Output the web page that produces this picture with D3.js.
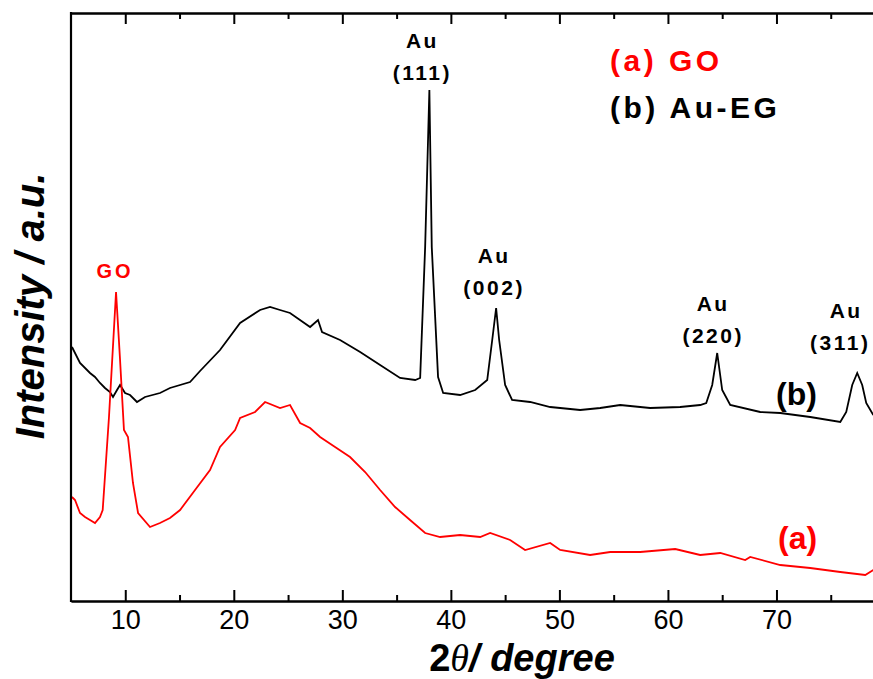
<!DOCTYPE html>
<html>
<head>
<meta charset="utf-8">
<script src="https://cdn.jsdelivr.net/npm/d3@7"></script>
<style>
  body { margin: 0; background: #fff; }
  svg { display: block; font-family: "Liberation Sans", Arial, sans-serif; }
</style>
</head>
<body>
<svg id="chart" width="873" height="679"></svg>
<script>
// (a) GO pattern
var goTheta = [5.09, 5.37, 5.83, 6.29, 6.75, 7.21, 7.67, 7.92, 8.5, 9.15, 9.52, 9.88, 10.25, 10.71, 11.18,
    12.28, 13.2, 14.12, 15.05, 16.43, 17.81, 18.73, 20.12, 20.58, 21.96, 22.88, 24.26, 25.18, 26.11,
    27.03, 27.95, 29.33, 30.71, 32.1, 33.48, 34.86, 36.24, 37.63, 39.01, 40.85, 42.7, 43.62, 45.46,
    46.84, 49.15, 50.07, 52.83, 54.68, 57.44, 60.67, 62.97, 64.82, 67.12, 67.58, 70.35, 73.11, 75.88,
    78.18, 78.92];
var goIntensity = [104, 101, 88, 84, 81, 78, 84, 91, 184, 309, 241, 171, 164, 118, 88,
    74, 78, 83, 91, 111, 131, 154, 171, 183, 189, 199, 193, 196, 178,
    173, 164, 154, 144, 129, 111, 94, 81, 68, 64, 66, 64, 68, 61,
    51, 58, 51, 46, 49, 49, 52, 46, 48, 41, 44, 36, 33, 29,
    26, 31];

// (b) Au-EG pattern
var auegTheta = [5.09, 5.83, 6.75, 7.21, 7.67, 8.13, 8.59, 8.87, 9.24, 9.52, 9.98, 10.44, 11.08, 11.82,
    13.2, 14.12, 15.97, 16.89, 18.73, 20.58, 22.42, 23.34, 24.26, 25.18, 27.03, 27.76, 28.13, 29.79,
    31.64, 33.48, 35.32, 36.71, 37.17, 37.63, 38.02, 38.24, 38.82, 39.29, 40.85, 42.24, 43.35, 43.81,
    44.17, 44.45, 45.0, 45.64, 47.3, 49.15, 51.91, 53.76, 55.6, 58.36, 61.13, 62.97, 63.53, 64.08,
    64.54, 65.0, 65.74, 68.5, 70.35, 73.11, 75.88, 76.43, 76.98, 77.44, 77.9, 78.27, 78.92];
var auegIntensity = [254, 238, 228, 224, 218, 213, 209, 204, 211, 216, 208, 206, 199, 204,
    208, 213, 219, 230, 251, 278, 291, 294, 291, 288, 274, 281, 269, 261,
    249, 236, 223, 221, 223, 354, 511, 354, 224, 208, 206, 211, 221, 261,
    293, 261, 216, 201, 199, 194, 191, 193, 196, 193, 194, 196, 198, 216,
    248, 211, 196, 189, 188, 184, 179, 189, 216, 228, 216, 198, 186];

var majorTicks = [10, 20, 30, 40, 50, 60, 70];
var minorTicks = [15, 25, 35, 45, 55, 65, 75];

// Au reflections marked above the peaks
var auPeaks = [
    {hkl: "(111)", theta: 38.02},
    {hkl: "(002)", theta: 44.17},
    {hkl: "(220)", theta: 64.54},
    {hkl: "(311)", theta: 77.44}
];
// label nudges (px) for each reflection: [dx, gap above peak]
var auLabelNudge = [[-7, 10], [-2, 13], [-4, 10], [-17, 23]];

var svg = d3.select("#chart"),
    margin = {left: 71, top: 13, bottom: 601},
    plotRight = 885;

var x = d3.scaleLinear().domain([5, 80]).range([margin.left, plotRight]);
var y = d3.scaleLinear().domain([0, 588]).range([margin.bottom, margin.top]);

svg.append("defs").append("clipPath").attr("id", "plot")
    .append("rect")
    .attr("x", margin.left).attr("y", margin.top)
    .attr("width", plotRight - margin.left).attr("height", margin.bottom - margin.top);

var line = d3.line()
    .x(function (d) { return x(d[0]); })
    .y(function (d) { return y(d[1]); });

var goData = goTheta.map(function (t, i) { return [t, goIntensity[i]]; });
var auegData = auegTheta.map(function (t, i) { return [t, auegIntensity[i]]; });

svg.append("path")
    .datum(auegData)
    .attr("clip-path", "url(#plot)")
    .attr("fill", "none")
    .attr("stroke", "#000")
    .attr("stroke-width", 1.8)
    .attr("d", line);

svg.append("path")
    .datum(goData)
    .attr("clip-path", "url(#plot)")
    .attr("fill", "none")
    .attr("stroke", "#ff0000")
    .attr("stroke-width", 1.8)
    .attr("d", line);

// axes, ticks pointing inward
function styleAxis(g) {
    g.selectAll("path.domain").attr("stroke-width", 2.2);
    g.selectAll(".tick line").attr("stroke-width", 2);
}

svg.append("g")
    .attr("transform", "translate(0," + margin.bottom + ")")
    .call(d3.axisBottom(x).tickValues(majorTicks).tickSize(-11).tickSizeOuter(0).tickPadding(9))
    .call(styleAxis)
    .call(function (g) {
        g.selectAll("text").attr("font-size", 27).attr("fill", "#000");
    });

svg.append("g")
    .attr("transform", "translate(0," + margin.bottom + ")")
    .call(d3.axisBottom(x).tickValues(minorTicks).tickSize(-6).tickSizeOuter(0).tickFormat(""))
    .call(styleAxis);

svg.append("g")
    .attr("transform", "translate(0," + margin.top + ")")
    .call(d3.axisTop(x).tickValues(majorTicks).tickSize(-11).tickSizeOuter(0).tickFormat(""))
    .call(styleAxis);

svg.append("g")
    .attr("transform", "translate(0," + margin.top + ")")
    .call(d3.axisTop(x).tickValues(minorTicks).tickSize(-6).tickSizeOuter(0).tickFormat(""))
    .call(styleAxis);

svg.append("line")
    .attr("x1", margin.left).attr("x2", margin.left)
    .attr("y1", margin.top - 1).attr("y2", margin.bottom + 1)
    .attr("stroke", "#000").attr("stroke-width", 2.2);

// axis titles
var xt = svg.append("text")
    .attr("x", 522).attr("y", 671)
    .attr("text-anchor", "middle")
    .attr("font-size", 38).attr("font-weight", "bold").attr("font-style", "italic");
xt.append("tspan").attr("font-style", "normal").text("2");
xt.append("tspan").attr("font-family", "'Liberation Serif', 'Times New Roman', serif")
    .attr("font-weight", "normal").text("θ");
xt.append("tspan").text("/ degree");

svg.append("text")
    .attr("transform", "translate(44,306) rotate(-90)")
    .attr("text-anchor", "middle")
    .attr("font-size", 40).attr("font-weight", "bold").attr("font-style", "italic")
    .text("Intensity / a.u.");

// peak labels
svg.append("text")
    .attr("x", x(9.15) - 1).attr("y", 278)
    .attr("text-anchor", "middle")
    .attr("fill", "#ff0000").attr("font-size", 20).attr("font-weight", "bold")
    .attr("letter-spacing", 3)
    .text("GO");

auPeaks.forEach(function (p, i) {
    var peakY = y(d3.max(auegData.filter(function (d) { return Math.abs(d[0] - p.theta) < 0.3; }),
        function (d) { return d[1]; }));
    var cx = x(p.theta) + auLabelNudge[i][0],
        base = peakY - auLabelNudge[i][1];
    var g = svg.append("g").attr("font-size", 21).attr("font-weight", "bold")
        .attr("text-anchor", "middle").attr("letter-spacing", 2.5);
    g.append("text").attr("x", cx + (i == 3 ? 6 : 0)).attr("y", base - 32).text("Au");
    g.append("text").attr("x", cx).attr("y", base).text(p.hkl);
});

// curve tags
svg.append("text").attr("x", 776).attr("y", 405)
    .attr("font-size", 32).attr("font-weight", "bold").text("(b)");
svg.append("text").attr("x", 778).attr("y", 549)
    .attr("fill", "#ff0000").attr("font-size", 32).attr("font-weight", "bold").text("(a)");

// legend
svg.append("text").attr("x", 610).attr("y", 71)
    .attr("fill", "#ff0000").attr("font-size", 30).attr("font-weight", "bold")
    .attr("letter-spacing", 3.5).text("(a) GO");
svg.append("text").attr("x", 610).attr("y", 118)
    .attr("fill", "#000").attr("font-size", 30).attr("font-weight", "bold")
    .attr("letter-spacing", 3.5).text("(b) Au-EG");
</script>
</body>
</html>
